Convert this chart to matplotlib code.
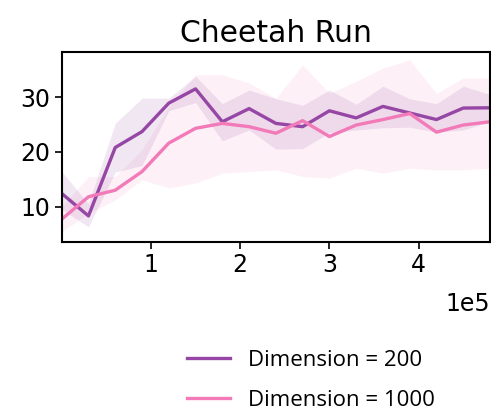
import numpy as np
import matplotlib
matplotlib.use("Agg")
import matplotlib.pyplot as plt

# шаги обучения (в единицах 1e5)
steps = [0.0, 0.3, 0.6, 0.9, 1.2, 1.5, 1.8, 2.1, 2.4, 2.7, 3.0, 3.3, 3.6, 3.9, 4.2, 4.5, 4.8]

# Dimension = 200
dim200_mean = [12.4, 8.3, 20.8, 23.7, 28.9, 31.5, 25.5, 27.9, 25.2, 24.6, 27.5, 26.2, 28.3, 27.1, 25.9, 28.0, 28.05]
dim200_low = [9.5, 6.3, 16.3, 17.5, 27.5, 29.0, 22.0, 24.0, 20.5, 20.6, 23.5, 24.0, 24.4, 24.5, 23.6, 24.0, 25.5]
dim200_high = [16.4, 10.5, 25.2, 29.8, 29.8, 33.8, 28.8, 31.3, 29.7, 28.5, 31.3, 28.7, 32.0, 29.7, 28.8, 32.0, 30.5]

# Dimension = 1000
dim1000_mean = [7.7, 11.8, 13.0, 16.4, 21.6, 24.3, 25.2, 24.6, 23.4, 25.7, 22.8, 24.9, 25.9, 27.0, 23.6, 24.9, 25.5]
dim1000_low = [5.4, 8.8, 11.2, 14.9, 13.4, 14.3, 16.1, 16.4, 16.7, 15.5, 15.2, 17.0, 16.1, 17.0, 16.7, 16.7, 17.0]
dim1000_high = [10.0, 15.5, 15.5, 20.4, 28.3, 34.1, 34.1, 32.6, 29.8, 35.9, 30.7, 32.9, 35.3, 36.8, 30.7, 33.5, 33.5]

x_ticks = [1, 2, 3, 4]
y_ticks = [10, 20, 30]

purple = '#9646a4'
pink = '#f27ab8'

plt.rcParams['font.family'] = 'DejaVu Sans'

x = np.array(steps) * 1e5

fig = plt.figure(figsize=(4.91, 4.11), dpi=100)
ax = fig.add_axes([0.1257, 0.412, 0.8723, 0.4623])

ax.fill_between(x, dim1000_low, dim1000_high, color=pink, alpha=0.1, linewidth=0)
ax.fill_between(x, dim200_low, dim200_high, color=purple, alpha=0.13, linewidth=0)
l1, = ax.plot(x, dim200_mean, color=purple, linewidth=2.4, label='Dimension = 200')
l2, = ax.plot(x, dim1000_mean, color=pink, linewidth=2.4, label='Dimension = 1000')

ax.set_xlim(0, 4.8e5)
ax.set_ylim(3.6, 38.3)
ax.set_xticks([t * 1e5 for t in x_ticks])
ax.set_xticklabels([str(t) for t in x_ticks])
ax.set_yticks(y_ticks)
ax.tick_params(labelsize=17, width=1.2, length=5)
# множитель оси X
ax.text(1.0, -0.33, '1e5', transform=ax.transAxes, ha='right', va='center', fontsize=17)
for sp in ax.spines.values():
    sp.set_linewidth(1.5)

ax.set_title('Cheetah Run', fontsize=21.5, pad=7)

fig.legend(handles=[l1, l2], loc='center left', bbox_to_anchor=(0.340, 0.075),
           frameon=False, prop={'family': 'Open Sans', 'size': 16},
           handlelength=1.94, handletextpad=0.81, labelspacing=0.86)

fig.savefig('out.png', dpi=100)
